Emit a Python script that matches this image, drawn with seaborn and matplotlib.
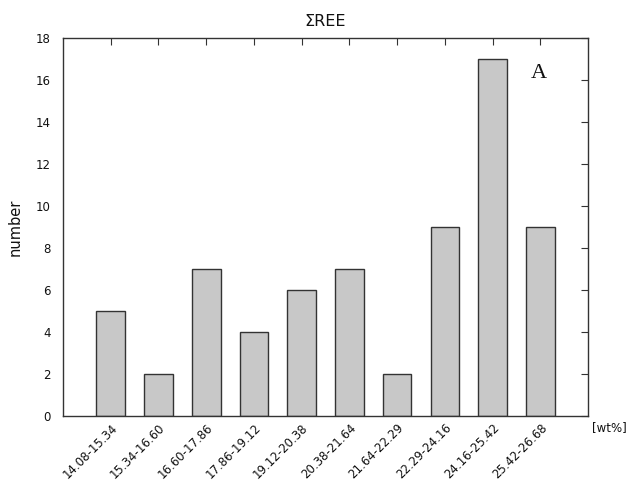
import matplotlib
matplotlib.use("Agg")
import matplotlib.pyplot as plt
import seaborn as sns
import pandas as pd

bins = ["14.08-15.34", "15.34-16.60", "16.60-17.86", "17.86-19.12", "19.12-20.38",
        "20.38-21.64", "21.64-22.29", "22.29-24.16", "24.16-25.42", "25.42-26.68"]
counts = [5, 2, 7, 4, 6, 7, 2, 9, 17, 9]

df = pd.DataFrame({"bin": bins, "number": counts})

sns.set_style("white")
plt.rcParams["font.family"] = ["DejaVu Sans"]
plt.rcParams["text.color"] = "#111111"
plt.rcParams["xtick.color"] = "#333333"
plt.rcParams["ytick.color"] = "#333333"
plt.rcParams["xtick.labelcolor"] = "#111111"
plt.rcParams["ytick.labelcolor"] = "#111111"
plt.rcParams["axes.labelcolor"] = "#111111"

fig = plt.figure(figsize=(6.27, 4.87), dpi=100)
ax = fig.add_axes([63 / 627, 1 - 416 / 487, 525 / 627, 378 / 487])

sns.barplot(data=df, x="bin", y="number", ax=ax, color="#c8c8c8",
            saturation=1, width=0.6, edgecolor="#333333", linewidth=1.0)

ax.set_xlim(-1, 10)
ax.set_ylim(0, 18)
ax.set_yticks(range(0, 19, 2))
ax.set_xlabel("")
ax.set_ylabel("number", fontsize=10.5, labelpad=9)
ax.set_title("\u03a3REE", fontsize=11.5, pad=9)

for s in ax.spines.values():
    s.set_color("#333333")
    s.set_linewidth(1.0)

ax.tick_params(axis="both", direction="in", length=5,
               top=True, right=True, labelsize=8.5)
ax.tick_params(axis="y", pad=9)
ax.tick_params(axis="x", pad=4)
plt.setp(ax.get_xticklabels(), rotation=45, ha="right", rotation_mode="anchor")

ax.text(0.906, 0.905, "A", transform=ax.transAxes, fontsize=16,
        family="Liberation Serif", ha="center", va="center")
ax.text(1.008, -0.03, "[wt%]", transform=ax.transAxes, fontsize=8.5,
        ha="left", va="center")

fig.savefig("out.png", dpi=100)
